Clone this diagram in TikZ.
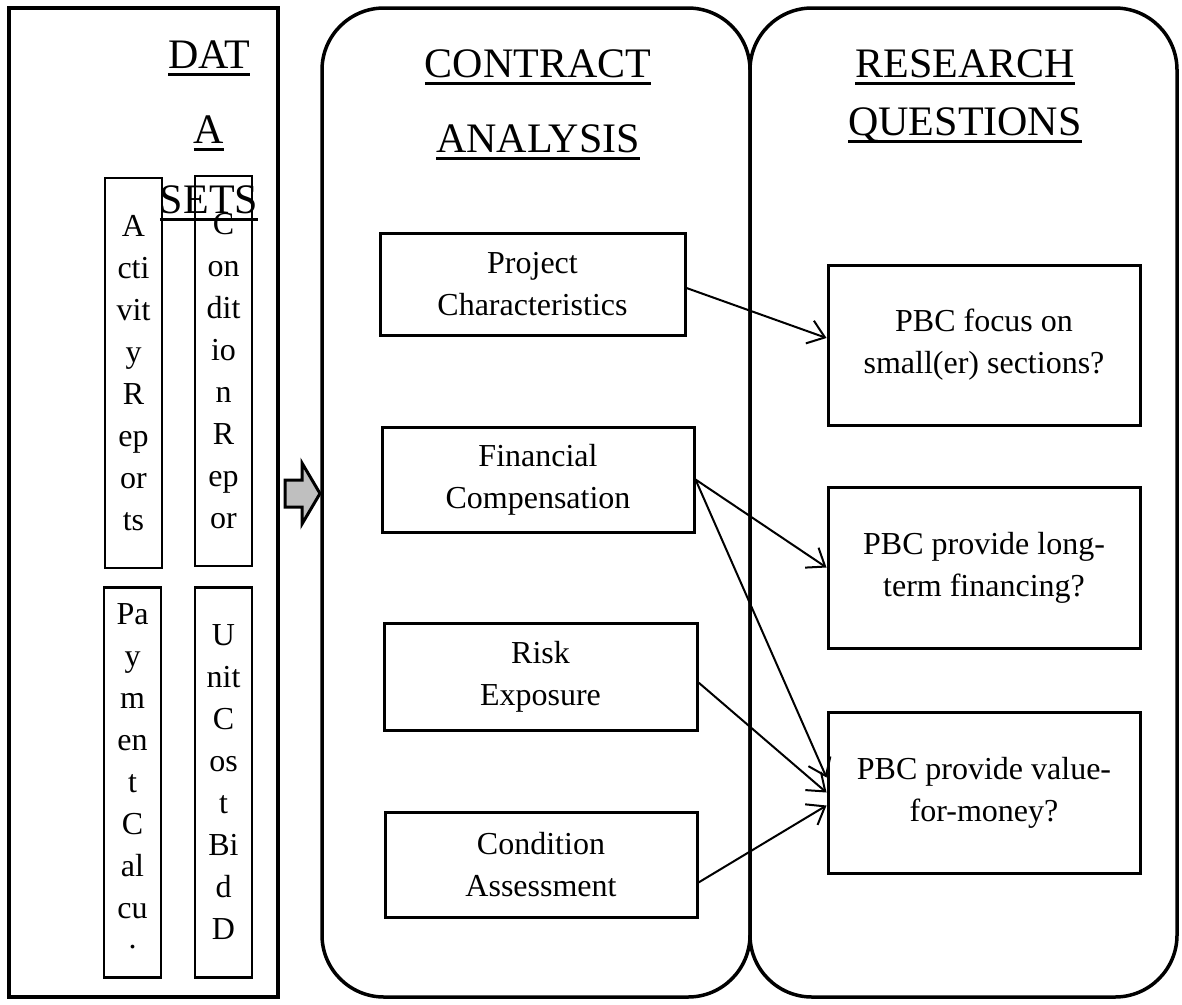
\documentclass[tikz,border=0pt]{standalone}
\usepackage{fontspec}
\setmainfont{Liberation Serif}
\usetikzlibrary{arrows.meta}
\newcommand\ulbar[1]{\setbox0=\hbox{#1}\rlap{\copy0}\rule[-7.5pt]{\wd0}{3pt}}

\begin{document}
\begin{tikzpicture}[x=1pt, y=-1pt,
  panel/.style={line width=3.5pt},
  box/.style={draw, line width=3pt, align=center, inner sep=0pt, font=\fontsize{32}{42}\selectfont},
  strip/.style={draw, line width=2.5pt, align=center, inner sep=0pt, minimum width=57pt, minimum height=390pt, font=\fontsize{32}{42}\selectfont},
  head/.style={anchor=base, inner sep=0pt, font=\fontsize{42}{50}\selectfont},
  link/.style={-{Straight Barb[length=16pt, width=24pt]}, line width=2pt}]
\useasboundingbox (0,0) rectangle (1182,1004);

\draw[panel] (9,8) rectangle (278,997);
\draw[panel, rounded corners=62pt] (322,8) rectangle (750,997);
\draw[panel, rounded corners=62pt] (750,8) rectangle (1177,997);

% data sets
\node[head] (d1) at (209,68) {\ulbar{DAT}};
\node[head] (d2) at (209,143) {\ulbar{A}};
\node[head] (d3) at (209,213) {\ulbar{SETS}};
\node[strip] (act) at (133.5,373) {A\\cti\\vit\\y\\R\\ep\\or\\ts};
\node[strip] (cond) at (223.5,371) {C\\on\\dit\\io\\n\\R\\ep\\or};
\node[strip] (pay) at (132.5,782.5) {Pa\\y\\m\\en\\t\\C\\al\\cu\\\raisebox{12pt}{.}};
\node[strip] (unit) at (223.5,782.5) {U\\nit\\C\\os\\t\\Bi\\d\\D};

\draw[line width=3pt, fill=black!25] (285,480) -- (302,480) -- (302,463) -- (320,493.5)
  -- (302,524) -- (302,507) -- (285,507) -- cycle;

% contract analysis
\node[head] (c1) at (538,77) {\ulbar{CONTRACT}};
\node[head] (c2) at (538,152) {\ulbar{ANALYSIS}};
\node[box, minimum width=305pt, minimum height=102pt] (pc) at (532.5,284) {Project\\Characteristics};
\node[box, minimum width=312pt, minimum height=105pt] (fc) at (538,479.5) {Financial\\Compensation};
\node[box, minimum width=313pt, minimum height=107pt] (re) at (540.5,676.5) {Risk\\Exposure};
\node[box, minimum width=312pt, minimum height=105pt] (ca) at (541,864.5) {Condition\\Assessment};

% research questions
\node[head] (r1) at (965,77) {\ulbar{RESEARCH}};
\node[head] (r2) at (965,135) {\ulbar{QUESTIONS}};
\node[box, minimum width=312pt, minimum height=160pt] (q1) at (984,345) {PBC focus on\\small(er) sections?};
\node[box, minimum width=312pt, minimum height=161pt] (q2) at (984,567.5) {PBC provide long-\\term financing?};
\node[box, minimum width=312pt, minimum height=161pt] (q3) at (984,792.5) {PBC provide value-\\for-money?};

\draw[link] ([yshift=-4pt]pc.east) -- ([yshift=7pt]q1.west);
\draw[link] (fc.east) -- (q2.west);
\draw[link] (fc.east) -- ([yshift=15pt]q3.west);
\draw[link] ([yshift=-6pt]re.east) -- (q3.west);
\draw[link] ([yshift=-18pt]ca.east) -- ([yshift=-13pt]q3.west);
\end{tikzpicture}
\end{document}
